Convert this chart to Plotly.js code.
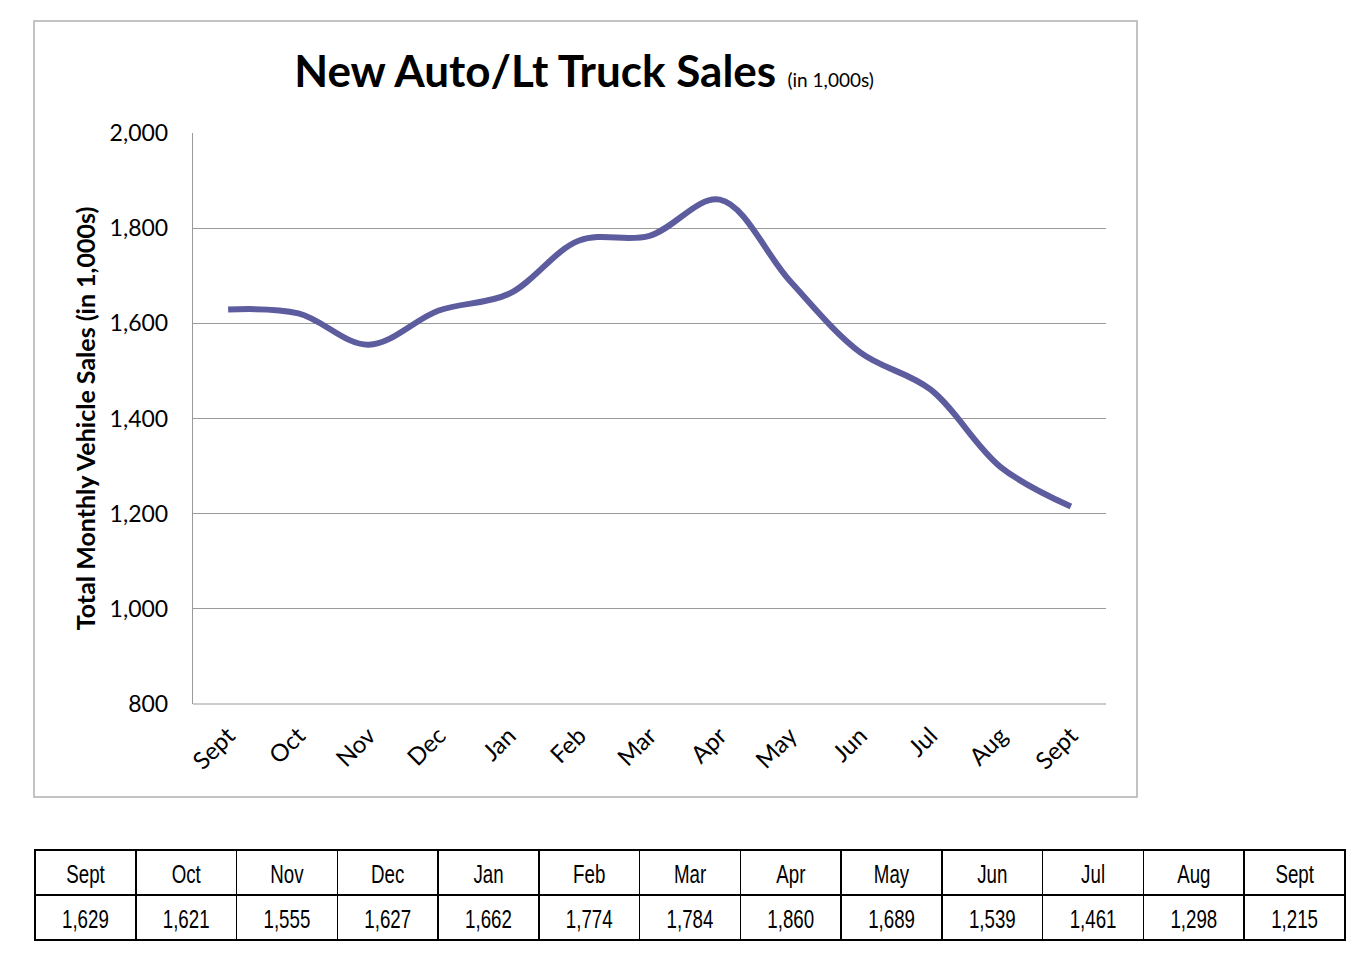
<!DOCTYPE html>
<html>
<head>
<meta charset="utf-8">
<script src="https://cdn.plot.ly/plotly-3.0.1.min.js"></script>
<style>html,body{margin:0;padding:0;background:#fff;}#chart{width:1371px;height:964px;}</style>
</head>
<body>
<div id="chart"></div>
<script>
const months = ["Sept","Oct","Nov","Dec","Jan","Feb","Mar","Apr","May","Jun","Jul","Aug","Sept"];
const sales = [1629,1621,1555,1627,1662,1774,1784,1860,1689,1539,1461,1298,1215];
const salesLabels = ["1,629","1,621","1,555","1,627","1,662","1,774","1,784","1,860","1,689","1,539","1,461","1,298","1,215"];
const yTicks = [800,1000,1200,1400,1600,1800,2000];

const W = 1371, H = 964;
const px = v => v / W;
const py = v => 1 - v / H;

const idx = months.map((m, i) => i);
const tableFont = '"Liberation Sans", Arial, sans-serif';

const lineTrace = {
  type: 'scatter',
  mode: 'lines',
  x: idx,
  y: sales,
  line: {color: '#5c5c9e', width: 6, shape: 'spline', smoothing: 1},
  hoverinfo: 'skip',
  xaxis: 'x', yaxis: 'y'
};

const tableTrace = {
  type: 'table',
  domain: {x: [px(35), px(1345)], y: [py(943), py(850)]},
  columnwidth: months.map(() => 1),
  header: {
    values: months,
    align: 'center',
    height: 45,
    fill: {color: '#ffffff'},
    line: {color: '#000000', width: 1.5},
    font: {family: tableFont, size: 26, color: '#000'}
  },
  cells: {
    values: salesLabels.map(v => [v]),
    align: 'center',
    height: 45,
    fill: {color: '#ffffff'},
    line: {color: '#000000', width: 1.5},
    font: {family: tableFont, size: 26, color: '#000'}
  }
};

const layout = {
  width: W, height: H,
  margin: {l: 0, r: 0, t: 0, b: 0},
  paper_bgcolor: '#ffffff',
  plot_bgcolor: '#ffffff',
  showlegend: false,
  font: {family: 'Lato, sans-serif', color: '#000'},
  title: {
    text: '<b>New Auto/Lt Truck Sales</b> <span style="font-size:19px">(in 1,000s)</span>',
    font: {family: 'Lato, sans-serif', size: 44, color: '#000'},
    x: px(584), xanchor: 'center', xref: 'paper',
    y: py(72), yanchor: 'middle', yref: 'container'
  },
  xaxis: {
    domain: [px(193), px(1106)],
    range: [-0.5, 12.5],
    tickmode: 'array',
    tickvals: idx,
    ticktext: months,
    tickangle: -45,
    tickfont: {family: 'Lato, sans-serif', size: 24, color: '#000'},
    ticklabelstandoff: 12,
    showgrid: false,
    zeroline: false,
    showline: false,
    ticks: '',
    fixedrange: true
  },
  yaxis: {
    domain: [py(704), py(133)],
    range: [800, 2000],
    tickvals: yTicks,
    tickformat: ',d',
    tickfont: {family: 'Lato, sans-serif', size: 23, color: '#000'},
    showgrid: true,
    gridcolor: '#9a9a9a',
    gridwidth: 1.2,
    showline: true,
    linecolor: '#9a9a9a',
    linewidth: 1.2,
    zeroline: false,
    ticks: '',
    ticklabelstandoff: 19,
    title: {
      text: '<b>Total Monthly Vehicle Sales (in 1,000s)</b>',
      font: {family: 'Lato, sans-serif', size: 25, color: '#000'},
      standoff: 6
    },
    fixedrange: true
  },
  shapes: [
    {type: 'rect', xref: 'paper', yref: 'paper', x0: px(34), x1: px(1137), y0: py(797), y1: py(21),
     line: {color: '#b0b0b0', width: 1.5}, fillcolor: 'rgba(0,0,0,0)', layer: 'below'},
    {type: 'line', xref: 'paper', yref: 'paper', x0: px(193), x1: px(1106), y0: py(704), y1: py(704),
     line: {color: '#9a9a9a', width: 1.2}}
  ]
};

Plotly.newPlot('chart', [lineTrace, tableTrace], layout, {displayModeBar: false, staticPlot: true}).then(function () {
  // condense the table lettering (narrow face) and centre it vertically in the rows
  document.querySelectorAll('#chart .table text.cell-text').forEach(function (t) {
    const bb = t.getBBox();
    const cx = bb.x + bb.width / 2;
    const prev = t.getAttribute('transform') || '';
    t.setAttribute('transform', prev + ' translate(' + cx + ',5) scale(0.72,1) translate(' + (-cx) + ',0)');
  });
});
</script>
</body>
</html>
